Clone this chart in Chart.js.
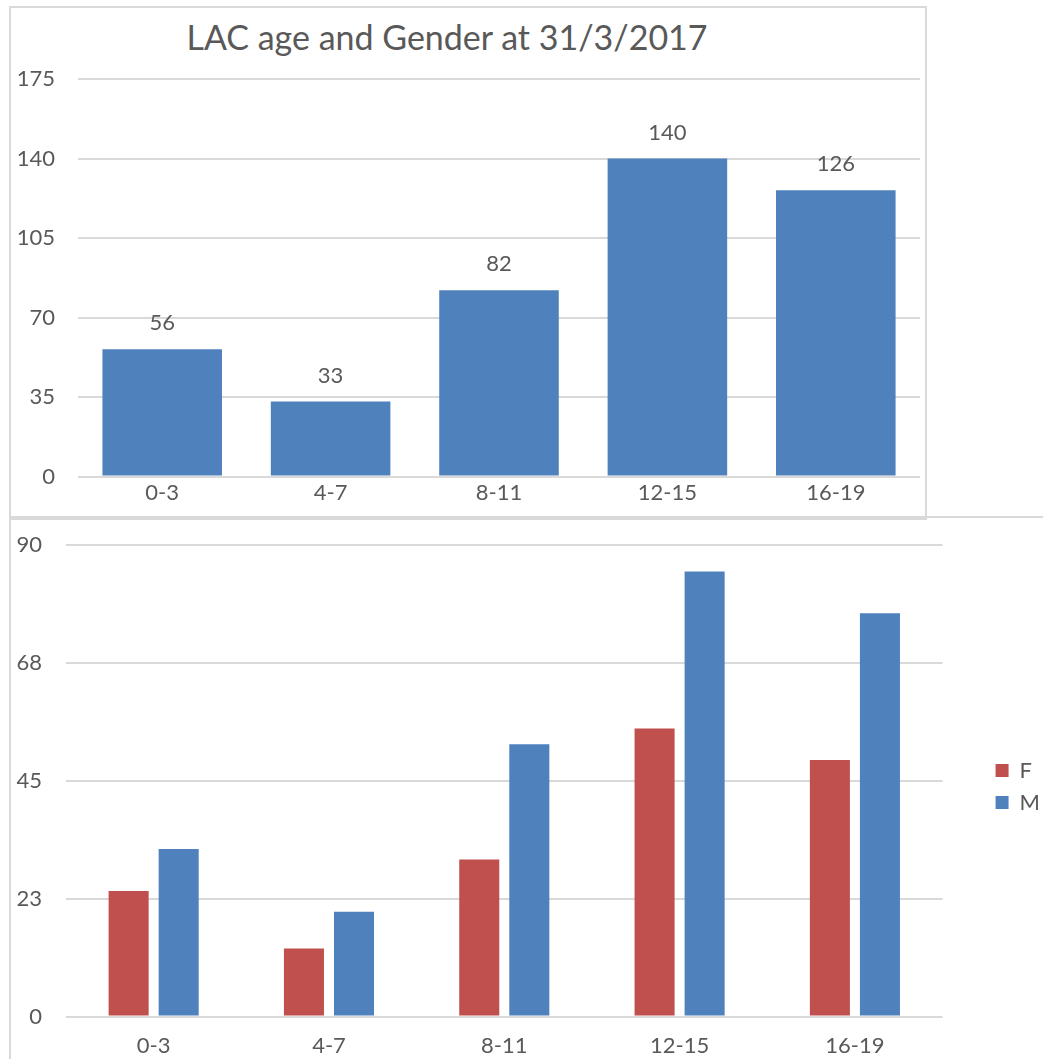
<!DOCTYPE html>
<html>
<head>
<meta charset="utf-8">
<script src="https://cdn.jsdelivr.net/npm/chart.js@4.4.1/dist/chart.umd.min.js"></script>
<style>
  body { margin: 0; background: #fff; width: 1043px; height: 1059px; overflow: hidden; position: relative; font-family: Lato, "Open Sans", sans-serif; }
  #frameTop { position: absolute; left: 9px; top: 6px; width: 914px; height: 510px; border: 2px solid #D9D9D9; }
  #frameBottom { position: absolute; left: 9px; top: 516px; width: 1040px; height: 560px; border-left: 2px solid #D9D9D9; border-top: 2px solid #D9D9D9; }
  #title { position: absolute; left: 0; width: 894px; top: 16px; text-align: center; font-size: 34px; color: #595959; font-family: Lato, sans-serif; }
  #c1 { position: absolute; left: 10px; top: 8px; }
  #c2 { position: absolute; left: 10px; top: 508px; }
</style>
</head>
<body>
<div id="frameTop"></div>
<div id="frameBottom"></div>
<div id="title">LAC age and Gender at 31/3/2017</div>
<canvas id="c1" width="915" height="511"></canvas>
<canvas id="c2" width="1040" height="567"></canvas>
<script>
const ageGroups = ['0-3', '4-7', '8-11', '12-15', '16-19'];
const totals = [56, 33, 82, 140, 126];
const female = [24, 13, 30, 55, 49];
const male = [32, 20, 52, 85, 77];

const textColor = '#595959';
const gridColor = '#D9D9D9';
const blue = '#4F81BD';
const red = '#C0504D';

Chart.defaults.font.family = 'Lato, "Open Sans", sans-serif';
Chart.defaults.font.size = 22;
Chart.defaults.color = textColor;

// draws the value over each bar
const barLabels = {
    id: 'barLabels',
    afterDatasetsDraw(chart) {
        const ctx = chart.ctx;
        ctx.save();
        ctx.font = '22px Lato, sans-serif';
        ctx.fillStyle = textColor;
        ctx.textAlign = 'center';
        ctx.textBaseline = 'middle';
        chart.getDatasetMeta(0).data.forEach((bar, i) => {
            ctx.fillText(chart.data.datasets[0].data[i], bar.x, bar.y - 26);
        });
        ctx.restore();
    }
};

// nudge the legend up a little, like the excel one
const legendShift = {
    id: 'legendShift',
    afterLayout(chart) {
        chart.legend.top -= 9;
        chart.legend.bottom -= 9;
    }
};

function fixWidth(w) {
    return function(scale) { scale.width = w; };
}

new Chart(document.getElementById('c1'), {
    type: 'bar',
    data: {
        labels: ageGroups,
        datasets: [{
            label: 'Total',
            data: totals,
            backgroundColor: blue,
            barPercentage: 0.71,
            categoryPercentage: 1
        }]
    },
    options: {
        responsive: false,
        animation: false,
        layout: { padding: { top: 71, right: 5, bottom: 10, left: 0 } },
        plugins: { legend: { display: false }, tooltip: { enabled: false } },
        scales: {
            x: {
                grid: { display: false, drawTicks: false },
                border: { display: false },
                ticks: { padding: 3 }
            },
            y: {
                min: 0, max: 175,
                afterFit: fixWidth(68),
                ticks: { stepSize: 35, padding: 23 },
                grid: { color: gridColor, lineWidth: 2, drawTicks: false },
                border: { display: false }
            }
        }
    },
    plugins: [barLabels]
});

new Chart(document.getElementById('c2'), {
    type: 'bar',
    data: {
        labels: ageGroups,
        datasets: [
            { label: 'F', data: female, backgroundColor: red, barPercentage: 0.8, categoryPercentage: 0.571 },
            { label: 'M', data: male, backgroundColor: blue, barPercentage: 0.8, categoryPercentage: 0.571 }
        ]
    },
    options: {
        responsive: false,
        animation: false,
        layout: { padding: { top: 8, right: 0, bottom: 0, left: 0 } },
        plugins: {
            tooltip: { enabled: false },
            legend: {
                position: 'right',
                labels: { boxWidth: 13, boxHeight: 13, padding: 10, color: textColor, font: { size: 22 } }
            }
        },
        scales: {
            x: {
                grid: { display: false, drawTicks: false },
                border: { display: false },
                ticks: { padding: 16 }
            },
            y: {
                min: 0, max: 90,
                afterFit: fixWidth(56),
                ticks: { stepSize: 22.5, padding: 24, callback: v => Math.round(v) },
                grid: { color: gridColor, lineWidth: 2, drawTicks: false },
                border: { display: false }
            },
            // empty space between plot and legend
            gap: {
                type: 'linear',
                position: 'right',
                afterFit: fixWidth(43),
                ticks: { display: false },
                grid: { display: false, drawTicks: false },
                border: { display: false }
            }
        }
    },
    plugins: [legendShift]
});
</script>
</body>
</html>
